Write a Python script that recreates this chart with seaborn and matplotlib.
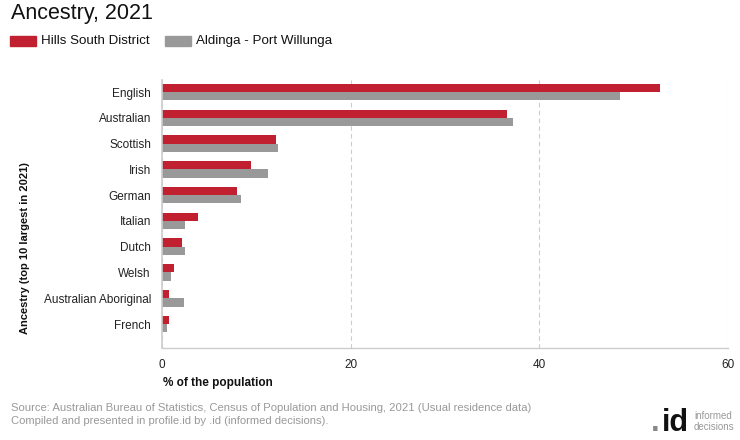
import matplotlib
matplotlib.use("Agg")
import matplotlib.pyplot as plt
from matplotlib.patches import Rectangle
import pandas as pd
import seaborn as sns

# values (% of population)
ancestries = ["English", "Australian", "Scottish", "Irish", "German", "Italian",
              "Dutch", "Welsh", "Australian Aboriginal", "French"]
hills_south = [52.8, 36.6, 12.1, 9.4, 8.0, 3.8, 2.1, 1.3, 0.7, 0.7]
aldinga = [48.5, 37.2, 12.3, 11.2, 8.4, 2.4, 2.4, 1.0, 2.3, 0.5]
series_names = ["Hills South District", "Aldinga - Port Willunga"]
series_colors = ["#C0202F", "#999999"]
x_ticks = [0, 20, 40, 60]

df = pd.DataFrame({
    "Ancestry": ancestries * 2,
    "Value": hills_south + aldinga,
    "Area": [series_names[0]] * len(ancestries) + [series_names[1]] * len(ancestries),
})

sns.set_style("white")
plt.rcParams["font.family"] = ["Liberation Sans", "DejaVu Sans"]

fig = plt.figure(figsize=(7.4, 4.4), dpi=100)
ax = fig.add_axes([162 / 740, 1 - 348 / 440, (728 - 162) / 740, (348 - 80) / 440])

sns.barplot(data=df, y="Ancestry", x="Value", hue="Area", order=ancestries,
            hue_order=series_names, palette=series_colors, width=0.64,
            saturation=1, linewidth=0, ax=ax, legend=False, orient="h")

ax.set_xlim(0, 60)
ax.set_ylim(len(ancestries) - 0.07, -0.47)
ax.set_xticks(x_ticks)
ax.set_xticklabels([str(t) for t in x_ticks], fontsize=8.5, color="#222222")
ax.tick_params(axis="x", length=0, pad=8)
ax.tick_params(axis="y", length=6, color="#cccccc", pad=2, labelsize=8.5,
               labelcolor="#222222")
for t in ax.yaxis.get_major_ticks():
    t.tick1line.set_linestyle((0, (2, 2)))

ax.grid(axis="x", color="#cccccc", linestyle=(0, (4, 3)), linewidth=0.8)
ax.set_axisbelow(True)
for side in ["top", "right"]:
    ax.spines[side].set_visible(False)
ax.spines["left"].set_color("#cccccc")
ax.spines["bottom"].set_color("#cccccc")
ax.spines["left"].set_linewidth(1.2)
ax.spines["bottom"].set_linewidth(1.0)

ax.set_xlabel("")
ax.set_ylabel("")
fig.text(163 / 740, 1 - 383 / 440, "% of the population", fontsize=8.5,
         fontweight="bold", ha="left", va="center", color="#111111")
fig.text(25 / 740, 1 - 248 / 440, "Ancestry (top 10 largest in 2021)", fontsize=8.0,
         fontweight="bold", rotation=90, ha="center", va="center", color="#111111")

# title and legend
fig.text(11 / 740, 1 - 14 / 440, "Ancestry, 2021", fontsize=15.5, ha="left",
         va="center", color="#111111")
legend_x = [10, 165]
for name, color, lx in zip(series_names, series_colors, legend_x):
    fig.patches.append(Rectangle((lx / 740, 1 - 46 / 440), 26 / 740, 10 / 440,
                                 transform=fig.transFigure, color=color))
    fig.text((lx + 31) / 740, 1 - 41 / 440, name, fontsize=9.6, ha="left",
             va="center", color="#111111")

# footer
fig.text(11 / 740, 1 - 408 / 440,
         "Source: Australian Bureau of Statistics, Census of Population and Housing, 2021 (Usual residence data)",
         fontsize=8.1, color="#999999", ha="left", va="center")
fig.text(11 / 740, 1 - 421 / 440,
         "Compiled and presented in profile.id by .id (informed decisions).",
         fontsize=8.1, color="#999999", ha="left", va="center")
fig.text(651 / 740, 1 - 431 / 440, ".", fontsize=22, fontweight="bold",
         color="#888888", ha="left", va="baseline")
fig.text(662 / 740, 1 - 431 / 440, "id", fontsize=22, fontweight="bold",
         color="#111111", ha="left", va="baseline")
fig.text(694 / 740, 1 - 416 / 440, "informed", fontsize=7, color="#999999",
         ha="left", va="center")
fig.text(694 / 740, 1 - 427 / 440, "decisions", fontsize=7, color="#999999",
         ha="left", va="center")

fig.savefig("out.png", dpi=100)
